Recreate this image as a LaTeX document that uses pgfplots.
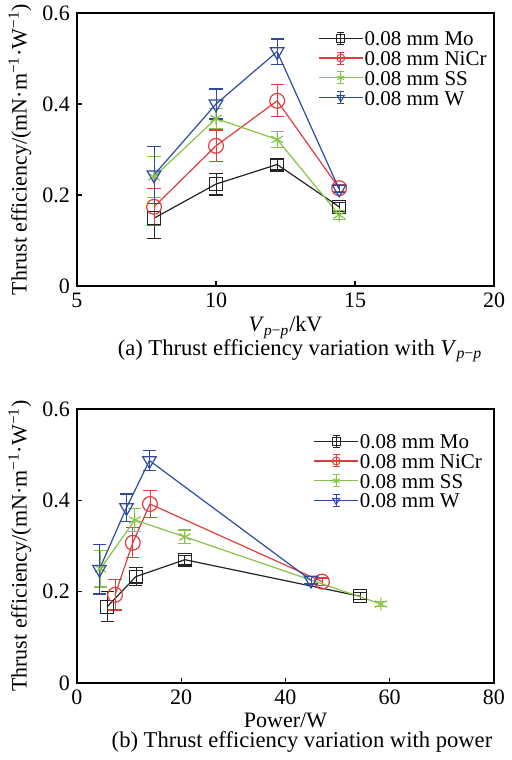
\documentclass[border=0pt]{standalone}
\usepackage{pgfplots}
\pgfplotsset{compat=1.18}
\usepackage{fontspec}
\setmainfont{Liberation Serif}

\definecolor{cMo}{RGB}{35,35,35}
\definecolor{cNi}{RGB}{225,60,60}
\definecolor{cSS}{RGB}{135,195,70}
\definecolor{cW}{RGB}{45,75,160}

% columns: x, efficiency, error
\pgfplotstableread{
x y e
7.77 0.149 0.045
10   0.224 0.024
12.2 0.267 0.012
14.43 0.174 0.010
}\vMo
\pgfplotstableread{
x y e
7.77 0.174 0.040
10   0.308 0.035
12.2 0.407 0.035
14.43 0.215 0.008
}\vNi
\pgfplotstableread{
x y e
7.77 0.240 0.045
10   0.368 0.022
12.2 0.322 0.018
14.43 0.156 0.010
}\vSS
\pgfplotstableread{
x y e
7.77 0.244 0.062
10   0.400 0.033
12.2 0.515 0.028
14.43 0.213 0.008
}\vW

\pgfplotstableread{
x y e
5.8  0.167 0.033
11.3 0.233 0.020
20.7 0.270 0.010
54.3 0.190 0.008
}\pMo
\pgfplotstableread{
x y e
7.3  0.193 0.033
10.7 0.307 0.033
14.0 0.392 0.030
47.0 0.222 0.008
}\pNi
\pgfplotstableread{
x y e
4.5  0.250 0.040
11.1 0.357 0.025
20.7 0.320 0.015
58.3 0.173 0.006
}\pSS
\pgfplotstableread{
x y e
4.3  0.249 0.054
9.5  0.384 0.030
13.9 0.487 0.022
44.9 0.225 0.008
}\pW

\pgfplotsset{
  effaxis/.style={
    scale only axis, width=208.5pt,
    ymin=0, ymax=0.6, ytick={0,0.2,0.4,0.6},
    yticklabel style={/pgf/number format/fixed,/pgf/number format/precision=1},
    tick pos=left, tick align=inside, major tick length=2.5pt,
    /pgf/number format/assume math mode=true,
    tick label style={font=\fontsize{11}{12}\selectfont},
    label style={font=\fontsize{11}{12}\selectfont},
    axis line style={line width=0.6pt},
    every tick/.style={line width=0.6pt, black},
    ylabel={Thrust efficiency/(mN·m\textsuperscript{−1}·W\textsuperscript{−1})},
    ylabel style={at={(rel axis cs:0,0.5)}, anchor=center, yshift=28.5pt},
    legend cell align=left,
    legend style={draw=none, fill=none, font=\fontsize{10.5}{11}\selectfont,
      nodes={inner sep=0.6pt, text height=7.4pt, text depth=0pt}, row sep=1.3pt},
    legend image code/.code={
      \draw[#1] (0pt,0pt) -- (22pt,0pt);
      \draw[#1, solid, line width=0.5pt] (11pt,-3pt) -- (11pt,3pt)
        (9.3pt,3pt) -- (12.7pt,3pt) (9.3pt,-3pt) -- (12.7pt,-3pt);
      \draw[#1, mark size=2pt, line width=0.5pt] plot coordinates {(11pt,0pt)};
    },
    every axis plot/.append style={line width=0.6pt,
      error bars/y dir=both, error bars/y explicit,
      error bars/error mark options={rotate=90, mark size=3.3pt, line width=0.6pt}},
  },
  sMo/.style={color=cMo, mark=square, mark size=3.2pt},
  sNi/.style={color=cNi, mark=o, mark size=3.7pt},
  sSS/.style={color=cSS, mark=asterisk, mark size=3.3pt},
  sW/.style={color=cW, mark=triangle, mark size=3.9pt, mark options={rotate=180}},
}

\begin{document}
\begin{tikzpicture}
\path[use as bounding box] (0,0) rectangle (255.5pt,380pt);

\begin{axis}[effaxis, at={(38.5pt,237pt)}, anchor=south west, height=136.5pt,
  xmin=5, xmax=20, xtick={5,10,15,20},
  xlabel={\textit{V}\textsubscript{\textit{p}−\textit{p}}/kV},
  xlabel style={yshift=2.5pt},
  legend style={at={(0.563,0.955)}, anchor=north west}]
\addplot+[sMo] table[x=x, y=y, y error=e] {\vMo};
\addplot+[sNi] table[x=x, y=y, y error=e] {\vNi};
\addplot+[sSS] table[x=x, y=y, y error=e] {\vSS};
\addplot+[sW] table[x=x, y=y, y error=e] {\vW};
\legend{0.08 mm Mo, 0.08 mm NiCr, 0.08 mm SS, 0.08 mm W}
\end{axis}

\begin{axis}[effaxis, at={(38.5pt,38.5pt)}, anchor=south west, height=137pt,
  xmin=0, xmax=80, xtick={0,20,40,60,80},
  xlabel={Power/W},
  xlabel style={yshift=3pt},
  legend style={at={(0.552,0.93)}, anchor=north west}]
\addplot+[sMo] table[x=x, y=y, y error=e] {\pMo};
\addplot+[sNi] table[x=x, y=y, y error=e] {\pNi};
\addplot+[sSS] table[x=x, y=y, y error=e] {\pSS};
\addplot+[sW] table[x=x, y=y, y error=e] {\pW};
\legend{0.08 mm Mo, 0.08 mm NiCr, 0.08 mm SS, 0.08 mm W}
\end{axis}

\node[font=\fontsize{11.3}{12}\selectfont] at (150pt,204.5pt)
  {(a) Thrust efficiency variation with \textit{V}\textsubscript{\textit{p}−\textit{p}}};
\node[font=\fontsize{11.3}{12}\selectfont] at (151pt,9pt)
  {(b) Thrust efficiency variation with power};
\end{tikzpicture}
\end{document}
